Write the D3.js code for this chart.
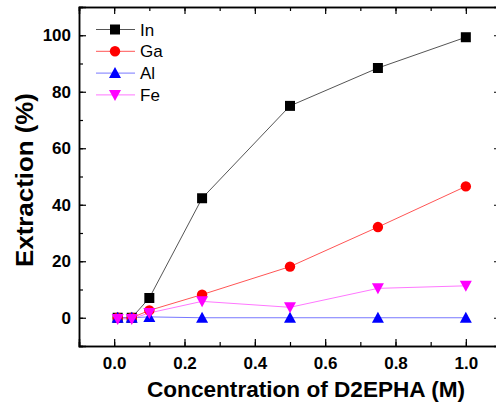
<!DOCTYPE html>
<html lang="en">
<head>
<meta charset="UTF-8">
<title>Extraction vs D2EPHA</title>
<script src="https://d3js.org/d3.v7.min.js"></script>
<style>
  body { margin: 0; background: #fff; }
  svg text { font-family: "Liberation Sans", Arial, sans-serif; }
</style>
</head>
<body>
<div id="chart"></div>
<script>
// data
var conc = [0.01, 0.05, 0.1, 0.25, 0.5, 0.75, 1.0];
var inVals = [0, 0, 7, 42.3, 75, 88.4, 99.3];
var gaVals = [0, 0, 2.6, 8.2, 18.1, 32.1, 46.5];
var alVals = [0, 0, 0.3, 0, 0, 0, 0];
var feVals = [-0.4, -0.4, 1.7, 5.8, 3.7, 10.4, 11.3];
var seriesNames = ["In", "Ga", "Al", "Fe"];
var xTicks = [0.0, 0.2, 0.4, 0.6, 0.8, 1.0];
var yTicks = [0, 20, 40, 60, 80, 100];

var width = 496, height = 408;
var margin = {top: 7, right: -5, bottom: 62, left: 79};

var svg = d3.select("#chart").append("svg")
  .attr("width", width)
  .attr("height", height);

var x = d3.scaleLinear().domain([-0.1, 1.1]).range([margin.left, width - margin.right]);
var y = d3.scaleLinear().domain([-10, 110]).range([height - margin.bottom, margin.top]);

var series = [
  {name: "In", vals: inVals, color: "#000", line: "#555", shape: "square"},
  {name: "Ga", vals: gaVals, color: "#ff0000", line: "#ff5555", shape: "circle"},
  {name: "Al", vals: alVals, color: "#0000ff", line: "#7777ff", shape: "up"},
  {name: "Fe", vals: feVals, color: "#ff00ff", line: "#ff77ff", shape: "down"}
];

// symbol path centred on 0,0
function marker(shape) {
  if (shape == "square") return "M-5,-5H5V5H-5Z";
  if (shape == "circle") return d3.symbol(d3.symbolCircle, 85)();
  if (shape == "up") return "M0,-6L6,5H-6Z";
  return "M0,6L6,-5H-6Z";
}

// axes (ticks inward, mirrored on top and right)
var xMinor = d3.range(-0.1, 1.1001, 0.1).map(function(d) { return +d.toFixed(1); });
var yMinor = d3.range(-10, 110.01, 10);

var gBottom = svg.append("g").attr("transform", "translate(0," + y(-10) + ")");
gBottom.call(d3.axisBottom(x).tickValues(xMinor).tickSize(-4).tickFormat(""));
gBottom.append("g").call(d3.axisBottom(x).tickValues(xTicks).tickSize(-7).tickPadding(11)
  .tickFormat(d3.format(".1f")));

var gTop = svg.append("g").attr("transform", "translate(0," + y(110) + ")");
gTop.call(d3.axisTop(x).tickValues(xMinor).tickSize(-4).tickFormat(""));
gTop.append("g").call(d3.axisTop(x).tickValues(xTicks).tickSize(-7).tickFormat(""));

var gLeft = svg.append("g").attr("transform", "translate(" + x(-0.1) + ",0)");
gLeft.call(d3.axisLeft(y).tickValues(yMinor).tickSize(-4).tickFormat(""));
gLeft.append("g").call(d3.axisLeft(y).tickValues(yTicks).tickSize(-7).tickPadding(8));

var gRight = svg.append("g").attr("transform", "translate(" + x(1.1) + ",0)");
gRight.call(d3.axisRight(y).tickValues(yMinor).tickSize(-4).tickFormat(""));
gRight.append("g").call(d3.axisRight(y).tickValues(yTicks).tickSize(-7).tickFormat(""));

svg.selectAll(".domain").attr("stroke", "#000").attr("stroke-width", 1.5);
svg.selectAll(".tick line").attr("stroke", "#000").attr("stroke-width", 1.2);
svg.selectAll(".tick text")
  .attr("font-size", 17)
  .attr("font-weight", "bold")
  .attr("fill", "#000");

// lines and markers
var line = d3.line()
  .x(function(d) { return x(d[0]); })
  .y(function(d) { return y(d[1]); });

series.forEach(function(s) {
  var pts = conc.map(function(c, i) { return [c, s.vals[i]]; });
  svg.append("path")
    .datum(pts)
    .attr("fill", "none")
    .attr("stroke", s.line)
    .attr("stroke-width", 1)
    .attr("d", line);
});
series.forEach(function(s) {
  var pts = conc.map(function(c, i) { return [c, s.vals[i]]; });
  svg.append("g").selectAll("path")
    .data(pts)
    .enter().append("path")
      .attr("d", marker(s.shape))
      .attr("fill", s.color)
      .attr("transform", function(d) { return "translate(" + x(d[0]) + "," + y(d[1]) + ")"; });
});

// legend
var legend = svg.append("g");
series.forEach(function(s, i) {
  var ly = 29.5 + i * 21.8;
  legend.append("line")
    .attr("x1", 96).attr("x2", 135)
    .attr("y1", ly).attr("y2", ly)
    .attr("stroke", s.line).attr("stroke-width", 1);
  legend.append("path")
    .attr("d", marker(s.shape))
    .attr("fill", s.color)
    .attr("transform", "translate(115," + ly + ")");
  legend.append("text")
    .attr("x", 140).attr("y", ly + 6)
    .attr("font-size", 17)
    .text(seriesNames[i]);
});

// axis titles
svg.append("text")
  .attr("x", 147).attr("y", 397)
  .attr("font-size", 22)
  .attr("font-weight", "bold")
  .attr("textLength", 318)
  .attr("lengthAdjust", "spacingAndGlyphs")
  .text("Concentration of D2EPHA (M)");

svg.append("text")
  .attr("transform", "translate(33,267) rotate(-90)")
  .attr("font-size", 23)
  .attr("font-weight", "bold")
  .attr("textLength", 174)
  .attr("lengthAdjust", "spacingAndGlyphs")
  .text("Extraction (%)");
</script>
</body>
</html>
